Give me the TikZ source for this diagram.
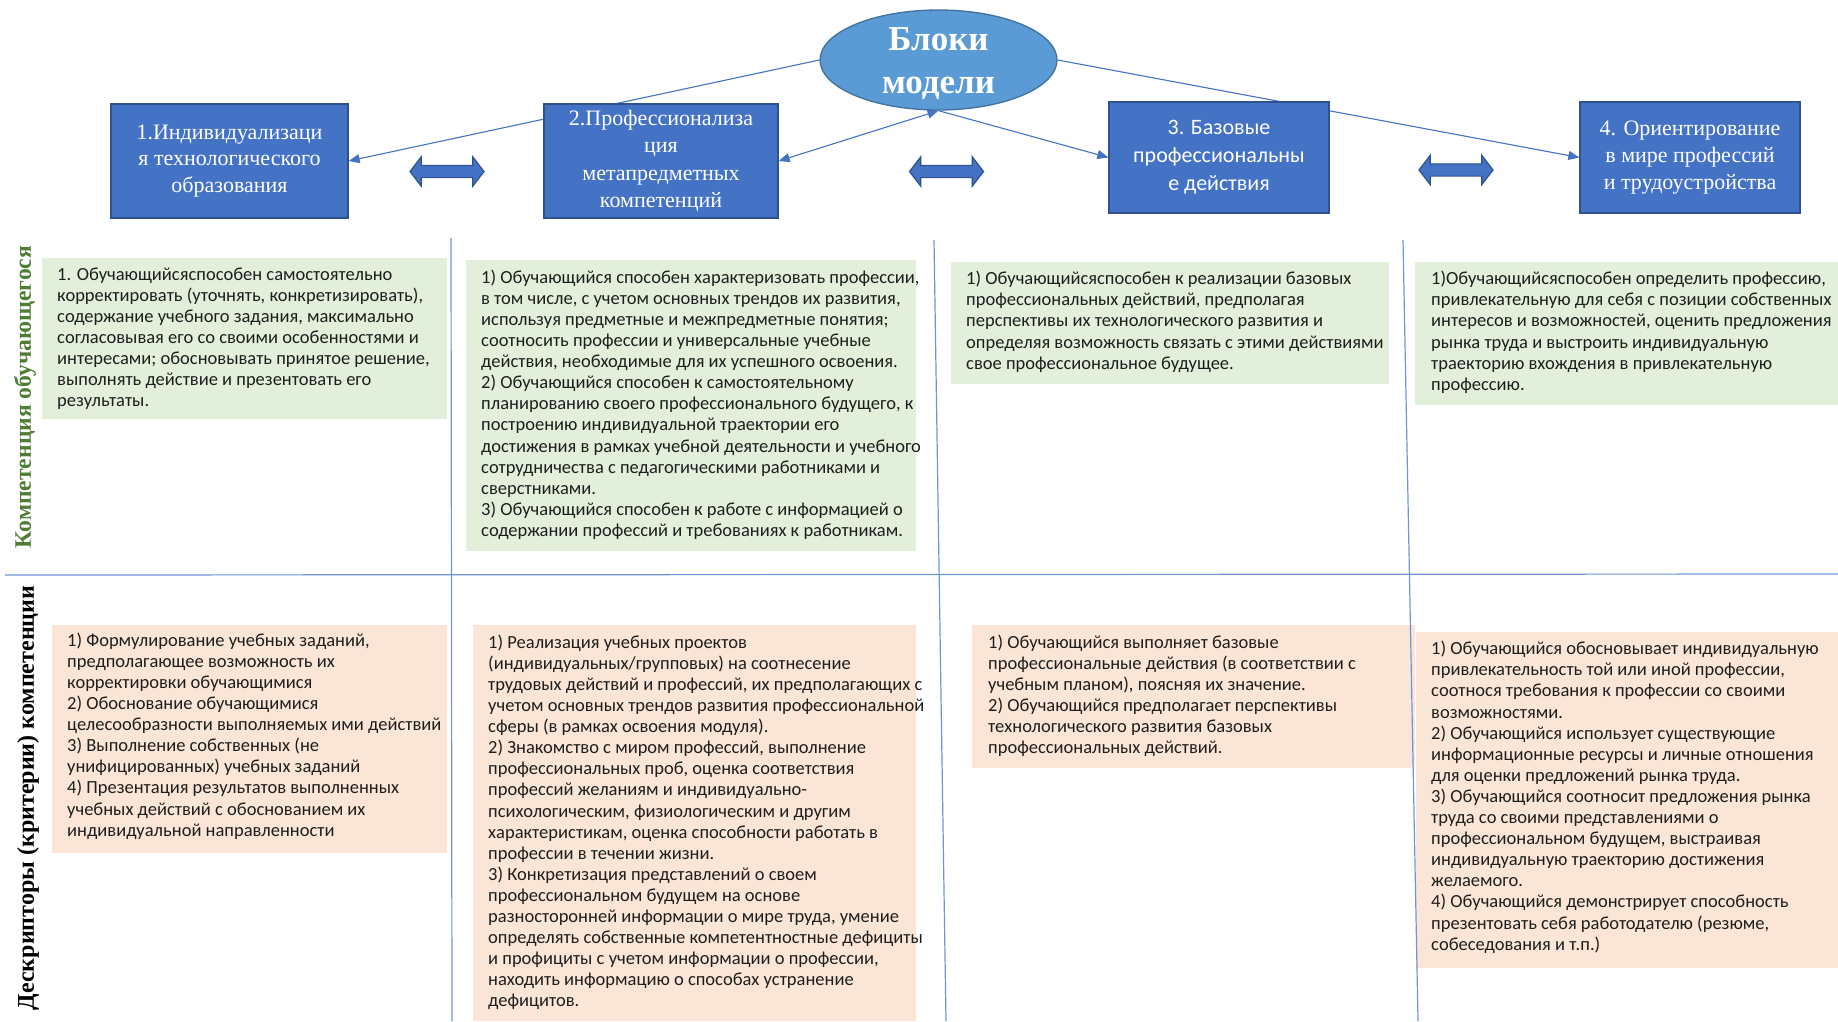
\documentclass[tikz,border=0pt]{standalone}
\usepackage{fontspec}
\setmainfont{Carlito}
\newfontfamily\tnr{Liberation Serif}
\usetikzlibrary{shapes.geometric,shapes.arrows,arrows.meta,backgrounds}
\definecolor{boxblue}{HTML}{4472C4}
\definecolor{boxborder}{HTML}{2F528F}
\definecolor{ellfill}{HTML}{5B9BD5}
\definecolor{ellborder}{HTML}{41719C}
\definecolor{conncol}{HTML}{4472C4}
\definecolor{divcol}{HTML}{7094D8}
\definecolor{greenfill}{HTML}{E2EFDA}
\definecolor{peachfill}{HTML}{FBE5D6}
\definecolor{labgreen}{HTML}{4E7D34}
\definecolor{txtcol}{HTML}{1E1E1E}
\newcommand\fln{\rule{0pt}{14pt}}
\begin{document}
\begin{tikzpicture}[x=1pt,y=-1pt,
  blockbox/.style={rectangle, fill=boxblue, draw=boxborder, line width=1.3pt, text=white, align=center, inner sep=0pt},
  serifbox/.style={blockbox, font=\tnr\fontsize{22}{26.8}\selectfont},
  sansbox/.style={blockbox, font=\fontsize{22}{28}\selectfont},
  panel/.style={rectangle, anchor=north west, inner sep=0pt, draw=none},
  gpanel/.style={panel, fill=greenfill},
  ppanel/.style={panel, fill=peachfill},
  btxt/.style={anchor=north west, inner sep=0pt, align=left, text=txtcol, font=\fontsize{18.5}{21.1}\selectfont},
  conn/.style={draw=conncol, line width=1.1pt},
  tipend/.style={-{Triangle[length=11pt,width=9pt]}},
  dblarr/.style={shape=double arrow, double arrow head extend=8.5pt, double arrow tip angle=105, inner sep=5.5pt, minimum height=74pt, fill=boxblue, draw=boxborder, line width=1.2pt},
  divider/.style={draw=divcol, line width=1.2pt}
]
\useasboundingbox (0,0) rectangle (1838,1021);

% central ellipse
\node[ellipse, fill=ellfill, draw=ellborder, line width=1.3pt, minimum width=237pt, minimum height=100pt, inner sep=0pt] (ell) at (938.5,60) {};
\node[inner sep=0pt, text=white, align=center, font=\tnr\bfseries\fontsize{35}{43}\selectfont] (elltxt) at (938.5,63.5) {Блоки\\модели};

% blocks
\node[serifbox, minimum width=237pt, minimum height=114pt] (b1) at (229.5,161) {1.Индивидуализаци\\я технологического\\образования};
\node[serifbox, minimum width=234pt, minimum height=114pt, font=\tnr\fontsize{22}{27.3}\selectfont] (b2) at (661,161) {2.Профессионализа\\ция\\метапредметных\\компетенций};
\node[sansbox, minimum width=220pt, minimum height=111pt] (b3) at (1219,157.5) {3. Базовые\\профессиональны\\е действия};
\node[serifbox, minimum width=220pt, minimum height=111pt] (b4) at (1690,157.5) {4. Ориентирование\\в мире профессий\\и трудоустройства};

% connectors (behind the shapes)
\begin{scope}[on background layer]
\fill[white] (0,0) rectangle (1838,1021);
\draw[conn, tipend] (ell.west) -- (b1.east);
\draw[conn, {Triangle[length=11pt,width=9pt]}-{Triangle[length=11pt,width=9pt]}] (ell.south) -- (b2.east);
\draw[conn, tipend] (ell.south) -- (b3.west);
\draw[conn, tipend] (ell.east) -- (b4.west);
\end{scope}

% double arrows
\node[dblarr] (da1) at (447,171.5) {};
\node[dblarr] (da2) at (946.5,171.5) {};
\node[dblarr] (da3) at (1456,170) {};

% green panels
\node[gpanel, minimum width=405pt, minimum height=161pt] (g1) at (42,258) {};
\node[gpanel, minimum width=450pt, minimum height=291pt] (g2) at (466,260) {};
\node[gpanel, minimum width=438pt, minimum height=122pt] (g3) at (951,262) {};
\node[gpanel, minimum width=423pt, minimum height=143pt] (g4) at (1415,262) {};
% peach panels
\node[ppanel, minimum width=395pt, minimum height=228pt] (p1) at (52,625) {};
\node[ppanel, minimum width=443pt, minimum height=396pt] (p2) at (473,625) {};
\node[ppanel, minimum width=443pt, minimum height=143pt] (p3) at (972,625) {};
\node[ppanel, minimum width=422pt, minimum height=336pt] (p4) at (1416,632) {};

% texts
\node[btxt] (tg1) at (57,266) {\fln1. Обучающийсяспособен самостоятельно\\
корректировать (уточнять, конкретизировать),\\
содержание учебного задания, максимально\\
согласовывая его со своими особенностями и\\
интересами; обосновывать принятое решение,\\
выполнять действие и презентовать его\\
результаты.};

\node[btxt] (tg2) at (481,269) {\fln1) Обучающийся способен характеризовать профессии,\\
в том числе, с учетом основных трендов их развития,\\
используя предметные и межпредметные понятия;\\
соотносить профессии и универсальные учебные\\
действия, необходимые для их успешного освоения.\\
2) Обучающийся способен к самостоятельному\\
планированию своего профессионального будущего, к\\
построению индивидуальной траектории его\\
достижения в рамках учебной деятельности и учебного\\
сотрудничества с педагогическими работниками и\\
сверстниками.\\
3) Обучающийся способен к работе с информацией о\\
содержании профессий и требованиях к работникам.};

\node[btxt] (tg3) at (966,270.5) {\fln1) Обучающийсяспособен к реализации базовых\\
профессиональных действий, предполагая\\
перспективы их технологического развития и\\
определяя возможность связать с этими действиями\\
свое профессиональное будущее.};

\node[btxt] (tg4) at (1431,270.5) {\fln1)Обучающийсяспособен определить профессию,\\
привлекательную для себя с позиции собственных\\
интересов и возможностей, оценить предложения\\
рынка труда и выстроить индивидуальную\\
траекторию вхождения в привлекательную\\
профессию.};

\node[btxt] (tp1) at (67,632) {\fln1) Формулирование учебных заданий,\\
предполагающее возможность их\\
корректировки обучающимися\\
2) Обоснование обучающимися\\
целесообразности выполняемых ими действий\\
3) Выполнение собственных (не\\
унифицированных) учебных заданий\\
4) Презентация результатов выполненных\\
учебных действий с обоснованием их\\
индивидуальной направленности};

\node[btxt] (tp2) at (488,634) {\fln1) Реализация учебных проектов\\
(индивидуальных/групповых) на соотнесение\\
трудовых действий и профессий, их предполагающих с\\
учетом основных трендов развития профессиональной\\
сферы (в рамках освоения модуля).\\
2) Знакомство с миром профессий, выполнение\\
профессиональных проб, оценка соответствия\\
профессий желаниям и индивидуально-\\
психологическим, физиологическим и другим\\
характеристикам, оценка способности работать в\\
профессии в течении жизни.\\
3) Конкретизация представлений о своем\\
профессиональном будущем на основе\\
разносторонней информации о мире труда, умение\\
определять собственные компетентностные дефициты\\
и профициты с учетом информации о профессии,\\
находить информацию о способах устранение\\
дефицитов.};

\node[btxt] (tp3) at (988,634) {\fln1) Обучающийся выполняет базовые\\
профессиональные действия (в соответствии с\\
учебным планом), поясняя их значение.\\
2) Обучающийся предполагает перспективы\\
технологического развития базовых\\
профессиональных действий.};

\node[btxt] (tp4) at (1431,640.5) {\fln1) Обучающийся обосновывает индивидуальную\\
привлекательность той или иной профессии,\\
соотнося требования к профессии со своими\\
возможностями.\\
2) Обучающийся использует существующие\\
информационные ресурсы и личные отношения\\
для оценки предложений рынка труда.\\
3) Обучающийся соотносит предложения рынка\\
труда со своими представлениями о\\
профессиональном будущем, выстраивая\\
индивидуальную траекторию достижения\\
желаемого.\\
4) Обучающийся демонстрирует способность\\
презентовать себя работодателю (резюме,\\
собеседования и т.п.)};

% row labels
\node[rotate=90, inner sep=0pt, text=labgreen, font=\tnr\bfseries\fontsize{23.6}{26}\selectfont] (lab1) at (25,397) {Компетенция обучающегося};
\node[rotate=90, inner sep=0pt, text=black, font=\tnr\bfseries\fontsize{24}{26}\selectfont] (lab2) at (28,798) {Дескрипторы (критерии) компетенции};

% dividers
\draw[divider] (5,575) -- (1838,574);
\draw[divider] (451,238) -- (452,1021);
\draw[divider] (934,240) -- (946,1021);
\draw[divider] (1403,240) -- (1418,1021);
\end{tikzpicture}
\end{document}
